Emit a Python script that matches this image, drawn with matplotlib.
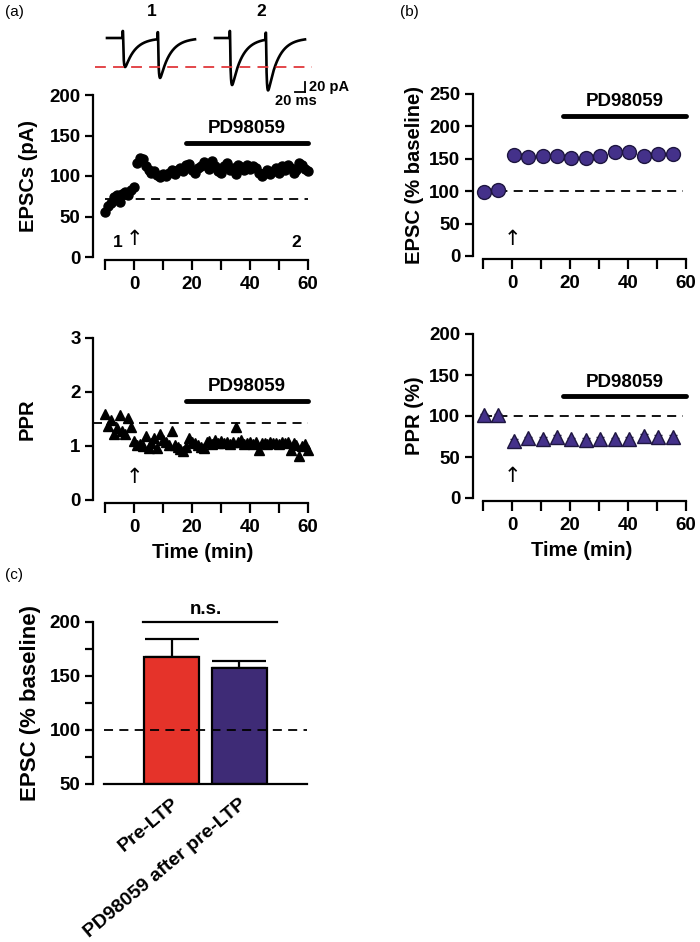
import numpy as np
import matplotlib
matplotlib.use('Agg')
import matplotlib.pyplot as plt

plt.rcParams['font.family'] = ['Liberation Sans', 'DejaVu Sans']
plt.rcParams['font.weight'] = 'bold'
plt.rcParams['axes.linewidth'] = 1.6

# ---------------- data ----------------
a_time = list(range(-10, 61))
a_epsc = [55, 63, 67, 74, 76, 68, 78, 80, 77, 83, 86,
          116, 122, 121, 112, 108, 104, 106, 101, 99, 103,
          100, 104, 107, 103, 108, 110, 106, 113, 115, 107,
          104, 110, 112, 117, 114, 109, 118, 112, 106, 104,
          112, 116, 108, 110, 103, 114, 111, 107, 113, 109,
          112, 110, 104, 100, 104, 108, 102, 106, 110, 104,
          112, 108, 114, 110, 104, 108, 116, 113, 109, 106]
a_epsc_baseline = 72
a_ppr = [1.60, 1.37, 1.49, 1.23, 1.33, 1.57, 1.28, 1.22, 1.51, 1.36,
         1.10, 1.02, 1.04, 1.00, 1.18, 0.96, 1.06, 1.14, 0.96, 1.22,
         1.12, 1.08, 1.02, 1.28, 1.02, 0.99, 0.94, 0.90, 0.98, 1.14,
         1.08, 1.05, 1.02, 0.99, 0.96, 1.07, 1.10, 1.04, 1.12, 1.06,
         1.09, 1.05, 1.08, 1.04, 1.07, 1.36, 1.08, 1.12, 1.03, 1.06,
         1.08, 1.04, 1.07, 0.93, 1.05, 1.06, 1.04, 1.07, 1.05, 1.06,
         1.04, 1.07, 1.05, 1.08, 0.93, 1.06, 1.02, 0.82, 1.00, 1.04, 0.93]
a_ppr_baseline = 1.43

b_time = [-9.6, -4.9, 0.8, 5.6, 10.6, 15.4, 20.5, 25.5, 30.4, 35.4, 40.4, 45.4, 50.4, 55.4]
b_epsc = [98, 102, 156, 153, 154, 155, 151, 152, 155, 160, 160, 154, 158, 157]
b_epsc_err = [3, 3, 3, 3, 3, 3, 3, 3, 4, 6, 6, 6, 6, 5]
b_ppr = [101, 101, 70, 73, 72.5, 75, 71.5, 71, 72.5, 71.5, 72.5, 76, 75, 75]
b_ppr_err = [2, 2, 2, 2, 2, 2, 2, 2, 2, 2, 2, 2, 2, 2]

c_groups = ['Pre-LTP', 'PD98059 after pre-LTP']
c_means = [167, 157.5]
c_sem = [17, 6.5]

# example traces (peak amplitudes in pA)
trace1_amps = [58, 78]
trace2_amps = [94, 102]

drug_label = 'PD98059'
drug_window = (18, 60)

# ---------------- figure ----------------
W, H = 700, 942
fig = plt.figure(figsize=(W / 100, H / 100), dpi=100)


def add_ax(l, t, r, b):
    ax = fig.add_axes([l / W, 1 - b / H, (r - l) / W, (b - t) / H])
    ax.patch.set_alpha(0)
    return ax


TICK_FS = 13.5
LAB_FS = 14.5
BLACK = 'black'
PURPLE = '#44318A'
PURPLE_BAR = '#3E2B76'
RED = '#E5332A'
DASH = (0, (5, 3.5))


def style_time_axis(ax, ylo, yhi, yticks):
    for s in ['top', 'right']:
        ax.spines[s].set_visible(False)
    ax.spines['left'].set_bounds(ylo, yhi)
    ax.spines['bottom'].set_bounds(-10, 60)
    ax.spines['bottom'].set_position(('outward', 2))
    ax.set_xticks(list(range(-10, 61, 10)))
    ax.set_xticklabels(['', '0', '', '20', '', '40', '', '60'])
    ax.set_yticks(yticks)
    ax.tick_params(axis='both', direction='out', length=6, width=1.6,
                   labelsize=TICK_FS, pad=3)
    ax.tick_params(axis='x', length=7, pad=5)
    for lab in ax.get_xticklabels() + ax.get_yticklabels():
        lab.set_fontweight('bold')


# ---- panel (a) EPSC ----
ax1 = add_ax(93, 95, 312, 257)
ax1.set_xlim((93 - 134) / 2.9, (312 - 134) / 2.9)
ax1.set_ylim(0, 200)
ax1.plot([-10, 60], [a_epsc_baseline] * 2, color=BLACK, lw=1.3, ls=DASH)
ax1.plot(a_time, a_epsc, 'o', color=BLACK, ms=6.5, mec=BLACK, clip_on=False)
ax1.plot(drug_window, [141, 141], color=BLACK, lw=3.5, solid_capstyle='round')
ax1.text(np.mean(drug_window), 159, drug_label, ha='center', va='center',
         fontsize=13.5, fontweight='bold')
ax1.text(-5.5, 18, '1', ha='center', va='center', fontsize=12.5, fontweight='bold')
ax1.text(56, 18, '2', ha='center', va='center', fontsize=12.5, fontweight='bold')
ax1.text(0, 22, '\u2191', ha='center', va='center', fontsize=15, fontweight='normal',
         family=['DejaVu Sans'])
style_time_axis(ax1, 0, 200, [0, 50, 100, 150, 200])
ax1.set_ylabel('EPSCs (pA)', fontsize=LAB_FS, fontweight='bold', labelpad=8)

# ---- panel (a) PPR ----
ax2 = add_ax(93, 338, 312, 500)
ax2.set_xlim((93 - 134) / 2.9, (312 - 134) / 2.9)
ax2.set_ylim(0, 3)
ax2.plot([-14, 60], [a_ppr_baseline] * 2, color=BLACK, lw=1.3, ls=DASH)
ax2.plot(a_time, a_ppr, '^', color=BLACK, ms=7, mec=BLACK, clip_on=False)
ax2.plot(drug_window, [1.83, 1.83], color=BLACK, lw=3.5, solid_capstyle='round')
ax2.text(np.mean(drug_window), 2.1, drug_label, ha='center', va='center',
         fontsize=13.5, fontweight='bold')
ax2.text(0, 0.42, '\u2191', ha='center', va='center', fontsize=15, fontweight='normal',
         family=['DejaVu Sans'])
style_time_axis(ax2, 0, 3, [0, 1, 2, 3])
ax2.set_ylabel('PPR', fontsize=LAB_FS, fontweight='bold', labelpad=24)
ax2.set_xlabel('Time (min)', fontsize=LAB_FS, fontweight='bold', labelpad=5)

# ---- panel (b) EPSC ----
ax3 = add_ax(473, 94, 690, 256)
ax3.set_xlim((473 - 512) / 2.9, (690 - 512) / 2.9)
ax3.set_ylim(0, 250)
ax3.plot([-10, 59], [100, 100], color=BLACK, lw=1.3, ls=DASH)
ax3.errorbar(b_time, b_epsc, yerr=b_epsc_err, fmt='o', color=PURPLE, ms=10,
             mec='#1E1640', mew=1.0, ecolor='#1E1640', elinewidth=1.2, capsize=3.5,
             capthick=1.2, clip_on=False)
ax3.plot([17.5, 60], [216, 216], color=BLACK, lw=3.5, solid_capstyle='round')
ax3.text(np.mean(drug_window), 238, drug_label, ha='center', va='center',
         fontsize=13.5, fontweight='bold')
ax3.text(0, 27, '\u2191', ha='center', va='center', fontsize=15, fontweight='normal',
         family=['DejaVu Sans'])
style_time_axis(ax3, 0, 250, [0, 50, 100, 150, 200, 250])
ax3.set_ylabel('EPSC (% baseline)', fontsize=LAB_FS, fontweight='bold', labelpad=4)

# ---- panel (b) PPR ----
ax4 = add_ax(473, 334, 690, 498)
ax4.set_xlim((473 - 512) / 2.9, (690 - 512) / 2.9)
ax4.set_ylim(0, 200)
ax4.plot([-10, 59], [100, 100], color=BLACK, lw=1.3, ls=DASH)
ax4.errorbar(b_time, b_ppr, yerr=b_ppr_err, fmt='^', color=PURPLE, ms=10,
             mec='#1E1640', mew=1.0, ecolor='#1E1640', elinewidth=1.2, capsize=3,
             capthick=1.2, clip_on=False)
ax4.plot([17.5, 60], [124, 124], color=BLACK, lw=3.5, solid_capstyle='round')
ax4.text(np.mean(drug_window), 141, drug_label, ha='center', va='center',
         fontsize=13.5, fontweight='bold')
ax4.text(0, 27, '\u2191', ha='center', va='center', fontsize=15, fontweight='normal',
         family=['DejaVu Sans'])
style_time_axis(ax4, 0, 200, [0, 50, 100, 150, 200])
ax4.set_ylabel('PPR (%)', fontsize=LAB_FS, fontweight='bold', labelpad=4)
ax4.set_xlabel('Time (min)', fontsize=LAB_FS, fontweight='bold', labelpad=5)

# ---- panel (c) bars ----
ax5 = add_ax(93, 621.7, 330, 784)
ax5.set_xlim(1 + (93 - 171.7) / 67.5, 1 + (330 - 171.7) / 67.5)
ax5.set_ylim(50, 200)
pos = [1, 2]
ax5.bar(pos, [m - 50 for m in c_means], bottom=50, width=0.815,
        color=[RED, PURPLE_BAR], edgecolor=BLACK, linewidth=1.6, zorder=2)
ax5.errorbar(pos, c_means, yerr=[[0, 0], c_sem], fmt='none', ecolor=BLACK,
             elinewidth=1.6, capsize=19.5, capthick=1.6, zorder=1)
ax5.plot([0, 3], [100, 100], color=BLACK, lw=1.3, ls=DASH, zorder=3)
ax5.plot([0.57, 2.56], [200, 200], color=BLACK, lw=1.6, clip_on=False)
ax5.text(1.5, 211, 'n.s.', ha='center', va='center', fontsize=13.5, fontweight='bold')
for s in ['top', 'right']:
    ax5.spines[s].set_visible(False)
ax5.spines['left'].set_bounds(50, 200)
ax5.spines['bottom'].set_bounds(0, 3)
ax5.set_yticks([50, 100, 150, 200])
ax5.set_yticks([75, 125, 175], minor=True)
ax5.set_xticks(pos)
ax5.set_xticklabels(c_groups, rotation=40, ha='right', rotation_mode='anchor')
ax5.tick_params(axis='y', which='both', direction='out', length=6, width=1.6,
                labelsize=TICK_FS, pad=3)
ax5.tick_params(axis='x', length=0, labelsize=14, pad=8)
for lab in ax5.get_xticklabels() + ax5.get_yticklabels():
    lab.set_fontweight('bold')
ax5.set_ylabel('EPSC (% baseline)', fontsize=16, fontweight='bold', labelpad=6)

# ---- panel (a) inset traces (on top) ----
axi = add_ax(95, 5, 360, 108)
axi.set_zorder(10)
axi.set_xlim(0, 530)
axi.set_ylim(-140, 66)
axi.axis('off')


def epsc_trace(t, stims, amps, tau_r=1.5, tau_d=20.0):
    y = np.zeros_like(t)
    tp = tau_r * tau_d / (tau_d - tau_r) * np.log(tau_d / tau_r)
    norm = np.exp(-tp / tau_d) - np.exp(-tp / tau_r)
    for ts, A in zip(stims, amps):
        dt = t - ts
        m = dt > 0
        y[m] += -A * (np.exp(-dt[m] / tau_d) - np.exp(-dt[m] / tau_r)) / norm
        art = (dt >= -0.8) & (dt < 0.8)
        y[art] += 14
    return y

t1 = np.linspace(24, 200, 1500)
axi.plot(t1, epsc_trace(t1, [56, 126], trace1_amps), color=BLACK, lw=1.9)
t2 = np.linspace(240, 420, 1500)
axi.plot(t2, epsc_trace(t2, [270, 342], trace2_amps), color=BLACK, lw=1.9)
axi.plot([0, 434], [-trace1_amps[0], -trace1_amps[0]], color='#E0383B',
         lw=1.3, ls=(0, (6, 4)))
axi.text(114, 52, '1', ha='center', va='center', fontsize=12.5, fontweight='bold')
axi.text(332, 52, '2', ha='center', va='center', fontsize=12.5, fontweight='bold')
axi.plot([400, 420], [-108, -108], color=BLACK, lw=1.3)
axi.plot([420, 420], [-108, -88], color=BLACK, lw=1.3)
axi.text(428, -97, '20 pA', ha='left', va='center', fontsize=10.5, fontweight='bold')
axi.text(402, -126, '20 ms', ha='center', va='center', fontsize=10.5, fontweight='bold')

# panel labels
fig.text(5 / W, 1 - 12 / H, '(a)', fontsize=11, fontweight='normal', va='center', ha='left')
fig.text(400 / W, 1 - 12 / H, '(b)', fontsize=11, fontweight='normal', va='center', ha='left')
fig.text(5 / W, 1 - 575 / H, '(c)', fontsize=11, fontweight='normal', va='center', ha='left')

fig.savefig('out.png', dpi=100)
